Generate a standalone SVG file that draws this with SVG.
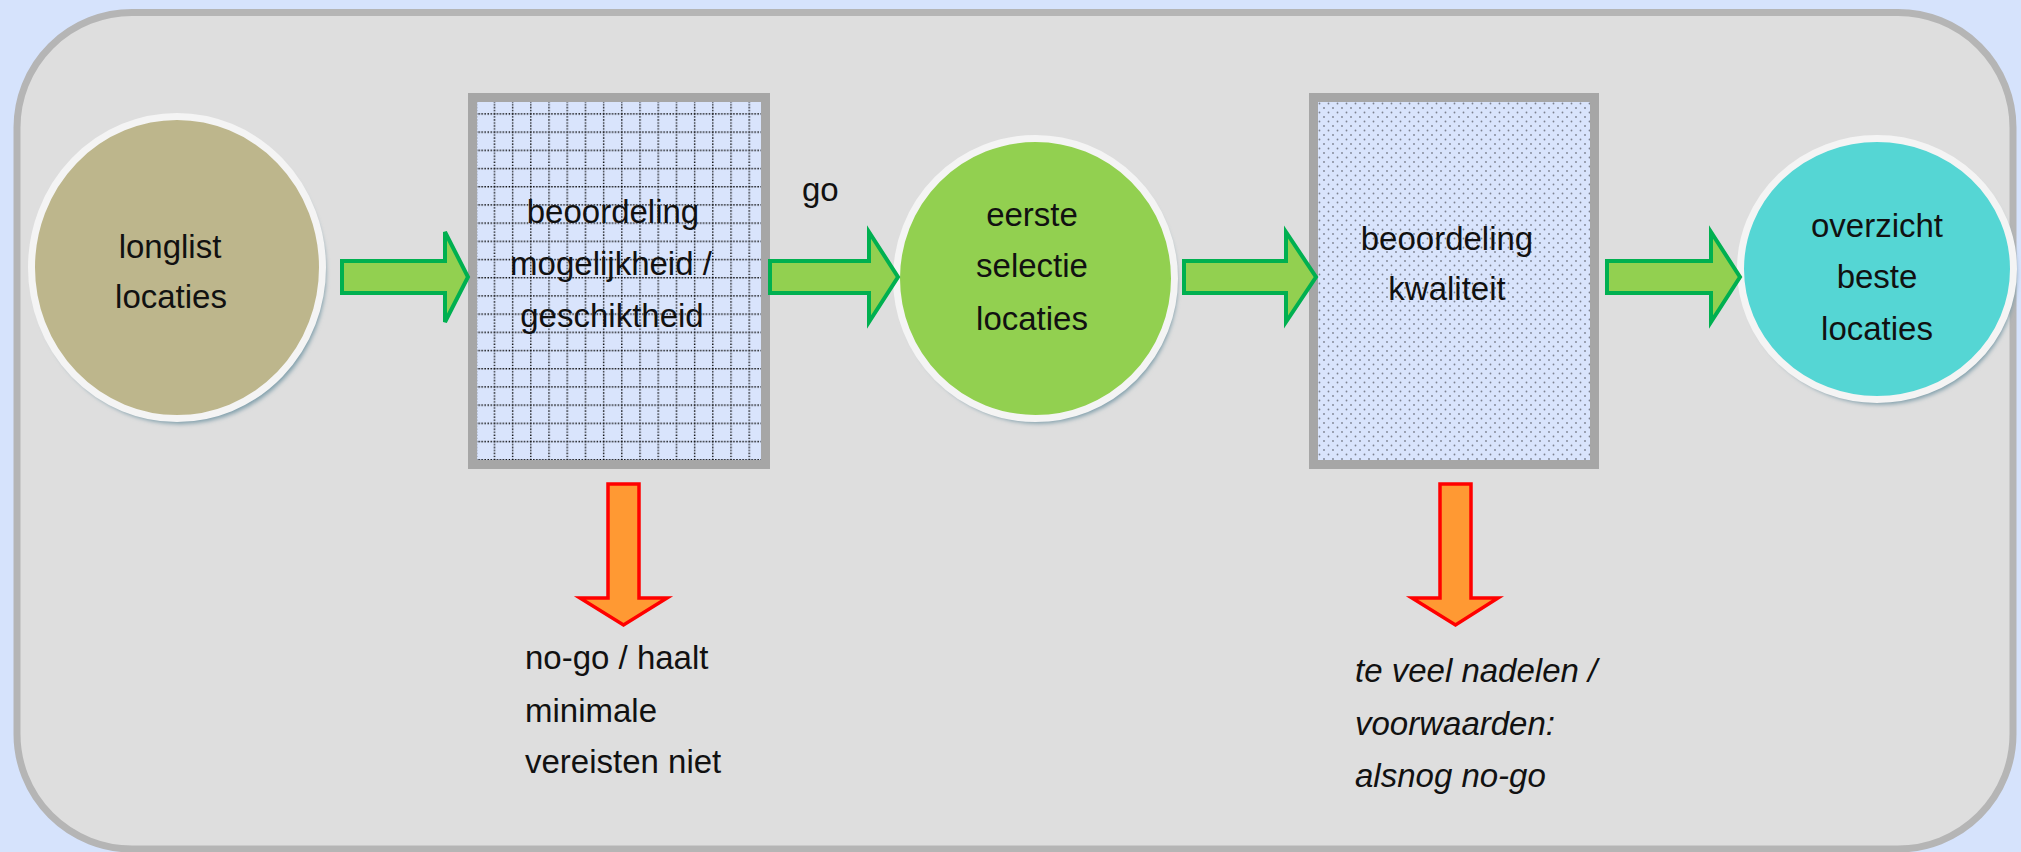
<svg xmlns="http://www.w3.org/2000/svg" width="2021" height="852" viewBox="0 0 2021 852">
<style>
  .t { font-family: "Liberation Sans", Arial, sans-serif; font-size: 33px; fill: #111; }
  .c { text-anchor: middle; }
  .i { font-style: italic; }
  .circ { stroke: #f4f4f4; stroke-width: 7; }
  .shadow { fill: #7f9eaa; filter: url(#blur); }
  .box { stroke: #a6a6a6; stroke-width: 9; }
  .garrow { fill: #92d050; stroke: #00b050; stroke-width: 4; stroke-linejoin: miter; }
  .oarrow { fill: #ff9933; stroke: #ff0000; stroke-width: 3.5; stroke-linejoin: miter; }
  .gl { stroke: #000; stroke-width: 1.4; stroke-dasharray: 1.4 1.6; }
</style>
<defs>
  <filter id="blur" x="-10%" y="-10%" width="120%" height="120%">
    <feGaussianBlur stdDeviation="2"/>
  </filter>
  <pattern id="grid" patternUnits="userSpaceOnUse" x="475.5" y="95" width="18.2" height="18.2">
    <rect width="18.2" height="18.2" fill="#d9e4fc"/>
    <line class="gl" x1="0.7" y1="0" x2="0.7" y2="18.2"/>
    <line class="gl" x1="0" y1="0.7" x2="18.2" y2="0.7"/>
  </pattern>
  <pattern id="dots" patternUnits="userSpaceOnUse" x="1318" y="102" width="9" height="9">
    <rect width="9" height="9" fill="#d9e4fc"/>
    <circle cx="1.5" cy="1.5" r="0.9" fill="#7d8290"/>
    <circle cx="6" cy="6" r="0.9" fill="#7d8290"/>
  </pattern>
</defs>

<rect x="0" y="0" width="2021" height="852" fill="#d6e3fc"/>
<rect id="container" x="17" y="12.5" width="1996" height="836.5" rx="115" ry="115" fill="#dedede" stroke="#b5b5b5" stroke-width="7"/>

<g id="node-longlist">
  <ellipse class="shadow" cx="180" cy="273" rx="146" ry="151"/>
  <ellipse class="circ" cx="177" cy="267.5" rx="145.5" ry="151" fill="#bdb68c"/>
  <text class="t c" x="170" y="258">longlist</text>
  <text class="t c" x="171" y="308">locaties</text>
</g>

<g id="node-beoordeling1">
  <rect class="box" x="472.5" y="97.5" width="293" height="367" fill="url(#grid)"/>
  <text class="t c" x="613" y="223">beoordeling</text>
  <text class="t c" x="611" y="275">mogelijkheid /</text>
  <text class="t c" x="612" y="327">geschiktheid</text>
</g>

<g id="node-eerste">
  <ellipse class="shadow" cx="1038.5" cy="283.5" rx="139" ry="140"/>
  <ellipse class="circ" cx="1035.5" cy="278.5" rx="139" ry="140" fill="#92d050"/>
  <text class="t c" x="1032" y="226">eerste</text>
  <text class="t c" x="1032" y="277">selectie</text>
  <text class="t c" x="1032" y="330">locaties</text>
</g>

<g id="node-beoordeling2">
  <rect class="box" x="1313.5" y="97.5" width="281" height="367" fill="url(#dots)"/>
  <text class="t c" x="1447" y="250">beoordeling</text>
  <text class="t c" x="1447" y="300">kwaliteit</text>
</g>

<g id="node-overzicht">
  <ellipse class="shadow" cx="1880" cy="274" rx="136.5" ry="130.5"/>
  <ellipse class="circ" cx="1877" cy="269" rx="136.5" ry="130.5" fill="#55d6d4"/>
  <text class="t c" x="1877" y="237">overzicht</text>
  <text class="t c" x="1877" y="288">beste</text>
  <text class="t c" x="1877" y="340">locaties</text>
</g>

<g id="connectors">
  <polygon class="garrow" points="342,261 445,261 445,232 468,277 445,322 445,293 342,293"/>
  <polygon class="garrow" points="770,261 869,261 869,232 898,277 869,322 869,293 770,293"/>
  <polygon class="garrow" points="1184,261 1286,261 1286,232 1316,277 1286,322 1286,293 1184,293"/>
  <polygon class="garrow" points="1607,261 1711,261 1711,232 1740,277 1711,322 1711,293 1607,293"/>
  <text class="t" x="802" y="201">go</text>
  <polygon class="oarrow" points="608,484 639,484 639,598 667,598 623.5,625 580,598 608,598"/>
  <polygon class="oarrow" points="1440,484 1471,484 1471,598 1498,598 1455.5,625 1412,598 1440,598"/>
</g>

<g id="label-nogo1">
  <text class="t" x="525" y="669">no-go / haalt</text>
  <text class="t" x="525" y="722">minimale</text>
  <text class="t" x="525" y="773">vereisten niet</text>
</g>

<g id="label-nogo2">
  <text class="t i" x="1355" y="682">te veel nadelen /</text>
  <text class="t i" x="1355" y="735">voorwaarden:</text>
  <text class="t i" x="1355" y="787">alsnog no-go</text>
</g>
</svg>
